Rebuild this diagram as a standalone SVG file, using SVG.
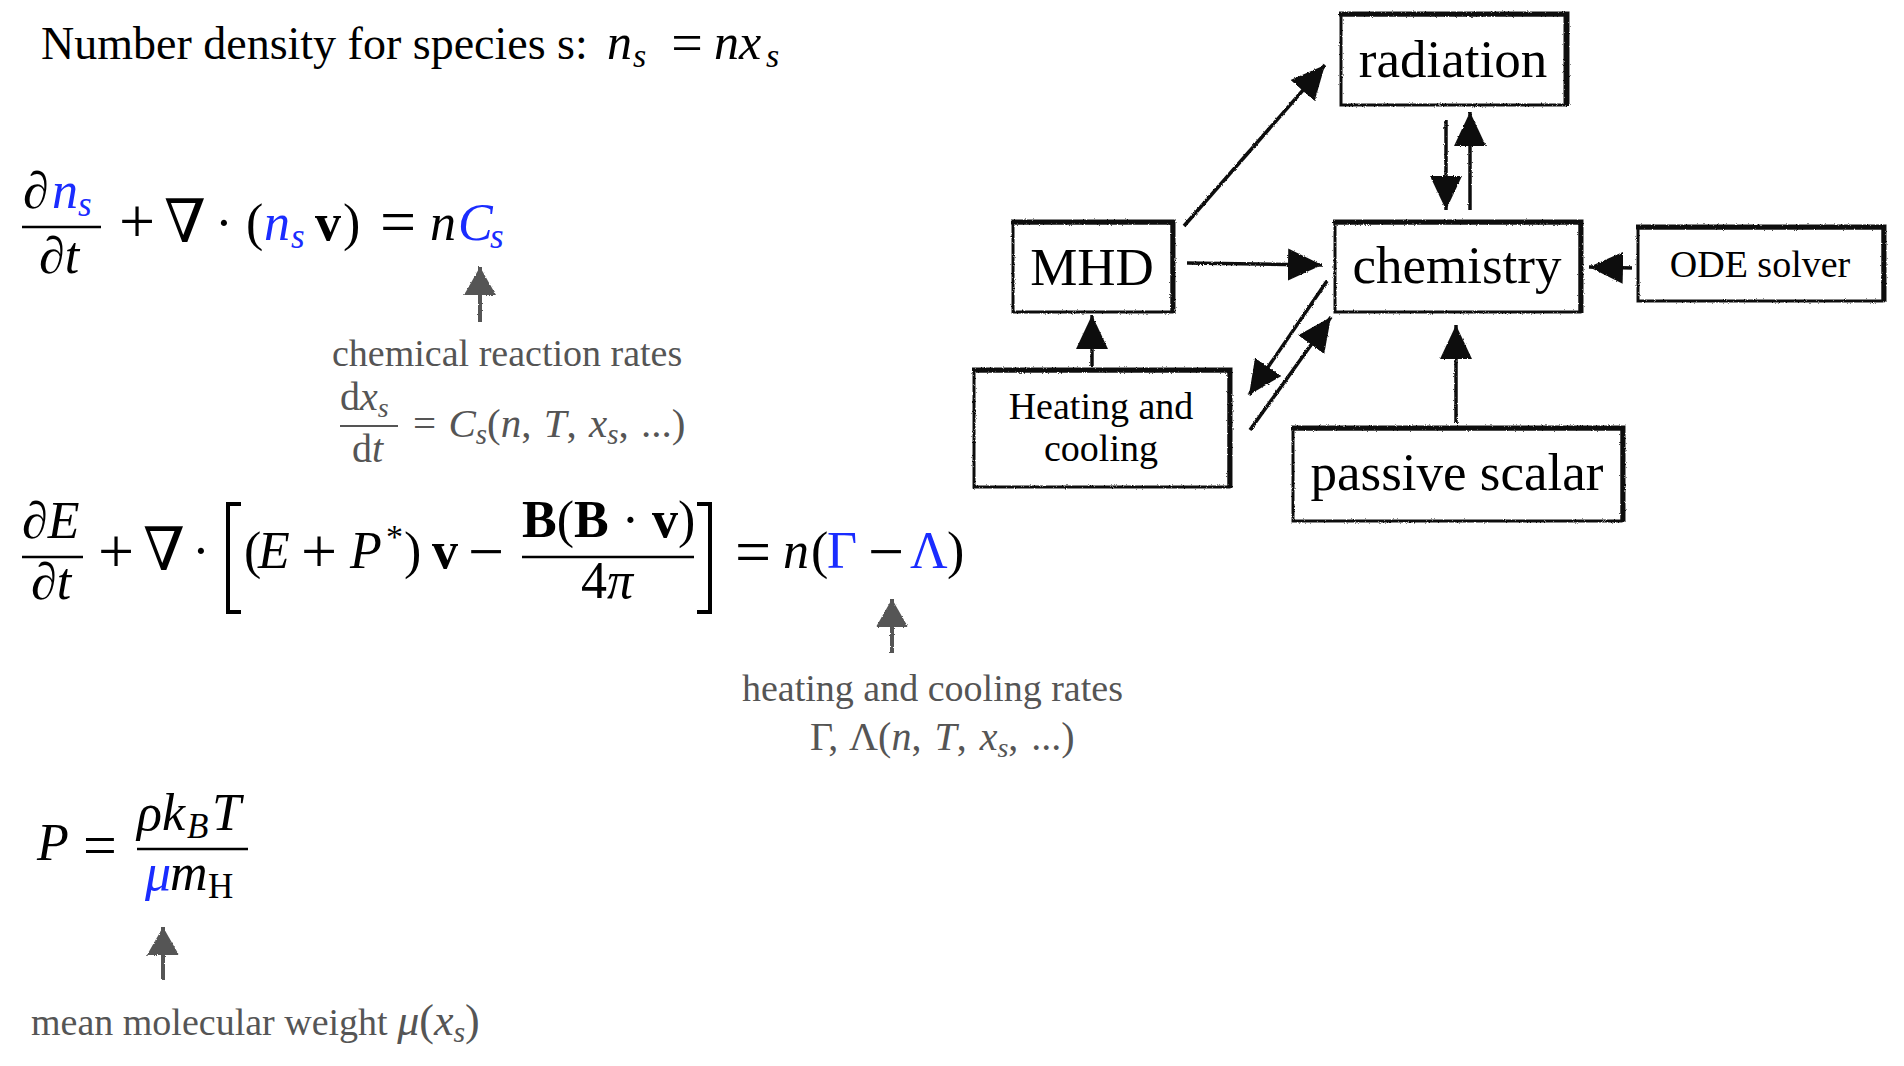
<svg xmlns="http://www.w3.org/2000/svg" width="1904" height="1066" viewBox="0 0 1904 1066">
<defs>
<style>
text{font-family:'Liberation Serif','DejaVu Serif',serif;fill:#000}
.t{font-size:46px}
.m{font-size:52px}
.op{font-size:64px;text-anchor:middle}
.i{font-style:italic}
.b{font-weight:bold}
.bl{fill:#1a2cff}
.g{fill:#555}
.ga{font-size:38px;fill:#555}
.sub{font-size:35px}
.nl{font-size:53px;text-anchor:middle}
.ns{font-size:38px;text-anchor:middle}
.mid{text-anchor:middle}
.bar{stroke:#000;stroke-width:2.5}
.gbar{stroke:#555;stroke-width:2}
.frame{fill:#fff;stroke:#111;stroke-width:3}
.thick{stroke:#111;stroke-width:5;fill:none}
.con{stroke:#111;stroke-width:3.5;fill:none}
.gcon{stroke:#555;stroke-width:4;fill:none}
</style>
<filter id="rough" x="-10%" y="-10%" width="120%" height="120%">
<feTurbulence type="fractalNoise" baseFrequency="0.9" numOctaves="2" seed="4" result="n"/>
<feDisplacementMap in="SourceGraphic" in2="n" scale="2.5" xChannelSelector="R" yChannelSelector="G"/>
</filter>
<marker id="ah" markerUnits="userSpaceOnUse" markerWidth="38" markerHeight="36" viewBox="0 0 38 36" refX="34" refY="18" orient="auto">
<path d="M0,2 L34,18 L0,34 z" fill="#111"/>
</marker>
<marker id="gh" markerUnits="userSpaceOnUse" markerWidth="34" markerHeight="34" viewBox="0 0 34 34" refX="28" refY="17" orient="auto">
<path d="M0,1 L28,17 L0,33 z" fill="#555"/>
</marker>
</defs>
<rect width="1904" height="1066" fill="#fff"/>

<g id="title">
<text class="t" x="41" y="59">Number density for species s:</text>
<text class="i" font-size="50" x="607" y="59">n</text>
<text class="i" font-size="34" x="633" y="67">s</text>
<text font-size="56" class="mid" x="687" y="62">=</text>
<text class="i" font-size="50" x="714" y="59">nx</text>
<text class="i" font-size="34" x="766" y="67">s</text>
</g>

<g id="eq-continuity">
<text class="m i" x="23" y="208">∂</text>
<text class="m i bl" x="52" y="208">n</text>
<text class="i bl sub" x="78" y="216">s</text>
<line class="bar" x1="22" y1="227" x2="101" y2="227"/>
<text class="m i" x="39" y="273">∂t</text>
<text class="op" x="137" y="243">+</text>
<text font-size="60" x="164" y="242">∇</text>
<text class="m mid" x="224" y="240">·</text>
<text class="m" x="246" y="240">(</text>
<text class="m i bl" x="264" y="240">n</text>
<text class="i bl sub" x="291" y="248">s</text>
<text class="m b" x="315" y="240">v</text>
<text class="m" x="343" y="240">)</text>
<text class="op" x="398" y="243">=</text>
<text class="m i" x="430" y="240">n</text>
<text class="m i bl" x="458" y="240">C</text>
<text class="i bl sub" x="490" y="248">s</text>
</g>

<g id="ann-chem">
<text class="ga" x="332" y="366">chemical reaction rates</text>
<text class="g" font-size="40" x="340" y="410">d<tspan font-style="italic">x</tspan><tspan font-style="italic" font-size="28" dy="7">s</tspan></text>
<line class="gbar" x1="340" y1="426" x2="398" y2="426"/>
<text class="g" font-size="40" x="352" y="462">d<tspan font-style="italic">t</tspan></text>
<text class="g" font-size="41" word-spacing="2" x="413" y="437">= <tspan font-style="italic">C</tspan><tspan font-style="italic" font-size="29" dy="7">s</tspan><tspan dy="-7">(</tspan><tspan font-style="italic">n</tspan>, <tspan font-style="italic">T</tspan>, <tspan font-style="italic">x</tspan><tspan font-style="italic" font-size="29" dy="7">s</tspan><tspan dy="-7">, ...)</tspan></text>
</g>

<g id="eq-energy">
<text class="m i" x="22" y="538">∂E</text>
<line class="bar" x1="22" y1="557" x2="83" y2="557"/>
<text class="m i" x="31" y="599">∂t</text>
<text class="op" x="116" y="573">+</text>
<text font-size="60" x="143" y="570">∇</text>
<text class="m mid" x="201" y="568">·</text>
<path d="M241,504 H228 V612 H241" stroke="#000" stroke-width="4" fill="none"/>
<text class="m" x="244" y="568">(</text>
<text class="m i" x="258" y="568">E</text>
<text class="op" x="319" y="573">+</text>
<text class="m i" x="350" y="568">P</text>
<text font-size="34" x="386" y="548">*</text>
<text class="m" x="404" y="568">)</text>
<text class="m b" x="432" y="568">v</text>
<text class="op" x="486" y="573">−</text>
<text class="m" x="522" y="537"><tspan class="b">B</tspan>(<tspan class="b">B</tspan> · <tspan class="b">v</tspan>)</text>
<line class="bar" x1="522" y1="557" x2="694" y2="557"/>
<text class="m" x="581" y="598">4<tspan font-style="italic">π</tspan></text>
<path d="M697,504 H710 V612 H697" stroke="#000" stroke-width="4" fill="none"/>
<text class="op" x="753" y="573">=</text>
<text class="m i" x="783" y="568">n</text>
<text class="m" x="811" y="568">(</text>
<text class="m bl" x="827" y="568">Γ</text>
<text class="op" x="886" y="573">−</text>
<text class="m bl" x="910" y="568">Λ</text>
<text class="m" x="947" y="568">)</text>
</g>

<g id="ann-heat">
<text class="ga" x="742" y="701">heating and cooling rates</text>
<text class="g" font-size="40" word-spacing="3" x="810" y="750">Γ, Λ(<tspan font-style="italic">n</tspan>, <tspan font-style="italic">T</tspan>, <tspan font-style="italic">x</tspan><tspan font-style="italic" font-size="28" dy="7">s</tspan><tspan dy="-7">, ...)</tspan></text>
</g>

<g id="eq-pressure">
<text class="m i" x="37" y="860">P</text>
<text font-size="60" class="mid" x="100" y="865">=</text>
<text class="m i" x="137" y="830">ρk</text>
<text class="i sub" x="187" y="838">B</text>
<text class="m i" x="212" y="830">T</text>
<line class="bar" x1="137" y1="849" x2="248" y2="849"/>
<text class="m i bl" x="145" y="890">μ</text>
<text class="m i" x="170" y="890">m</text>
<text class="sub" x="208" y="898">H</text>
</g>

<g id="ann-mu">
<text class="ga" font-size="39" x="31" y="1035">mean molecular weight <tspan font-style="italic" font-size="44">μ</tspan><tspan font-size="44">(</tspan><tspan font-style="italic" font-size="44">x</tspan><tspan font-style="italic" font-size="30" dy="7">s</tspan><tspan font-size="44" dy="-7">)</tspan></text>
</g>

<g id="radiation">
<rect class="frame" x="1341" y="15" width="224" height="90" filter="url(#rough)"/>
<path class="thick" d="M1339,14 H1567 V106" filter="url(#rough)"/>
<text class="nl" x="1453" y="77">radiation</text>
</g>
<g id="MHD">
<rect class="frame" x="1013" y="223" width="159" height="89" filter="url(#rough)"/>
<path class="thick" d="M1011,222 H1173 V313" filter="url(#rough)"/>
<text class="nl" x="1092" y="285">MHD</text>
</g>
<g id="chemistry">
<rect class="frame" x="1335" y="223" width="245" height="89" filter="url(#rough)"/>
<path class="thick" d="M1333,222 H1581 V313" filter="url(#rough)"/>
<text class="nl" x="1457" y="283">chemistry</text>
</g>
<g id="ODE-solver">
<rect class="frame" x="1638" y="228" width="245" height="73" filter="url(#rough)"/>
<path class="thick" d="M1636,227 H1884 V302" filter="url(#rough)"/>
<text class="ns" x="1760" y="277">ODE solver</text>
</g>
<g id="heating-cooling">
<rect class="frame" x="974" y="371" width="255" height="116" filter="url(#rough)"/>
<path class="thick" d="M972,370 H1230 V488" filter="url(#rough)"/>
<text class="ns" x="1101" y="419">Heating and</text>
<text class="ns" x="1101" y="461">cooling</text>
</g>
<g id="passive-scalar">
<rect class="frame" x="1293" y="429" width="329" height="92" filter="url(#rough)"/>
<path class="thick" d="M1291,428 H1623 V522" filter="url(#rough)"/>
<text class="nl" x="1457" y="490">passive scalar</text>
</g>

<g id="connectors" filter="url(#rough)">
<line class="con" x1="1184" y1="226" x2="1325" y2="65" marker-end="url(#ah)"/>
<line class="con" x1="1446" y1="120" x2="1446" y2="210" marker-end="url(#ah)"/>
<line class="con" x1="1470" y1="210" x2="1470" y2="112" marker-end="url(#ah)"/>
<line class="con" x1="1187" y1="263" x2="1322" y2="265" marker-end="url(#ah)"/>
<line class="con" x1="1632" y1="268" x2="1589" y2="267" marker-end="url(#ah)"/>
<line class="con" x1="1092" y1="367" x2="1092" y2="315" marker-end="url(#ah)"/>
<line class="con" x1="1327" y1="281" x2="1249" y2="395" marker-end="url(#ah)"/>
<line class="con" x1="1250" y1="430" x2="1331" y2="317" marker-end="url(#ah)"/>
<line class="con" x1="1456" y1="423" x2="1456" y2="325" marker-end="url(#ah)"/>
<line class="gcon" x1="480" y1="322" x2="480" y2="267" marker-end="url(#gh)"/>
<line class="gcon" x1="892" y1="653" x2="892" y2="599" marker-end="url(#gh)"/>
<line class="gcon" x1="163" y1="980" x2="163" y2="927" marker-end="url(#gh)"/>
</g>
</svg>
